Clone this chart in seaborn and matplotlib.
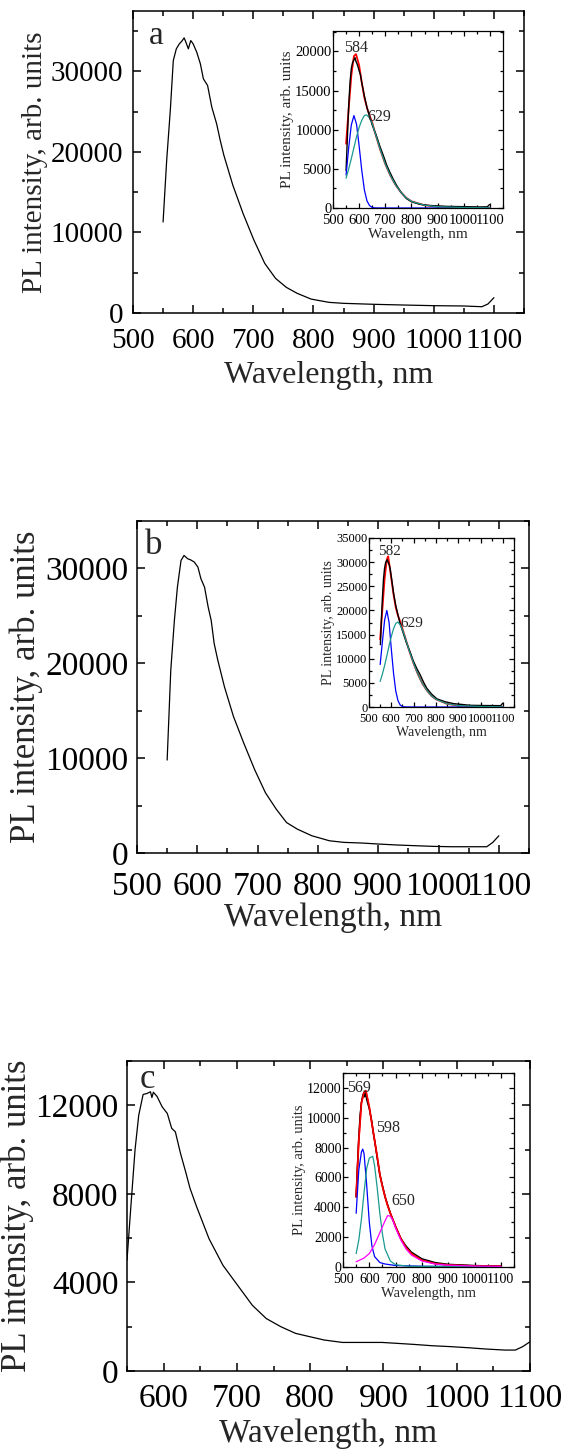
import numpy as np
import pandas as pd
import matplotlib
matplotlib.use("Agg")
import matplotlib.pyplot as plt
import seaborn as sns
from matplotlib.ticker import MultipleLocator

# ---------------- data ----------------
# Panel a main spectrum
a_wl = [550, 556, 562, 567, 572, 577, 581, 585, 588, 592, 596, 600, 606, 612, 617, 624, 631,
        639, 645, 651, 666, 683, 701, 719, 737, 755, 773, 796, 826, 850, 900, 950, 1000,
        1050, 1080, 1090, 1100]
a_pl = [11300, 18960, 25150, 31350, 32800, 33420, 33740, 34160, 33620, 32800, 33830, 33420,
        32380, 30940, 29080, 28250, 25560, 23500, 21440, 19600, 15860, 12350, 9050, 6160,
        4300, 3180, 2440, 1730, 1320, 1200, 1080, 990, 910, 870, 780, 1115, 1900]
# Panel a inset: data, fit and components
ai_wl = [550, 555, 560, 565, 570, 575, 580, 584, 588, 592, 596, 600, 605, 610, 620, 630, 640,
         650, 665, 680, 692, 705, 717, 730, 743, 760, 781, 800, 832, 870, 934, 1000, 1062,
         1090, 1098]
ai_data = [4800, 9000, 13000, 16000, 17800, 18600, 18900, 19200, 18700, 18400, 18000, 17500,
           17000, 16000, 14300, 12800, 11700, 10600, 9300, 7800, 6750, 5500, 4600, 3700, 2900,
           2000, 1200, 800, 470, 320, 210, 170, 130, 150, 430]
ai_fit_wl = [550, 560, 570, 580, 588, 600, 610, 620, 630, 640, 650, 660, 680, 700, 720, 740,
             760, 780, 800, 850, 900, 1000, 1100]
ai_fit = [8200, 12700, 16900, 19400, 19650, 18200, 16000, 14100, 12800, 11800, 10900, 9700,
          7500, 5600, 4100, 2900, 2000, 1300, 850, 350, 170, 60, 30]
ai_p1_wl = [550, 560, 570, 580, 590, 600, 610, 620, 630, 640, 650, 660, 700, 1100]
ai_p1 = [4200, 7700, 10600, 11800, 10700, 7900, 4800, 2300, 900, 300, 70, 10, 0, 0]
ai_p2_wl = [550, 560, 570, 580, 590, 600, 610, 620, 628, 640, 650, 660, 680, 700, 720, 740,
            760, 780, 800, 850, 900, 1000, 1100]
ai_p2 = [3800, 5000, 6300, 7700, 9100, 10300, 11200, 11800, 11900, 11500, 10800, 9700, 7500,
         5600, 4100, 2900, 2000, 1300, 850, 350, 170, 60, 30]
ai_peaks = ["584", "629"]

# Panel b main spectrum
b_wl = [550, 556, 562, 567, 573, 578, 584, 589, 595, 601, 606, 612, 618, 623, 628, 634, 645,
        660, 677, 695, 713, 731, 748, 766, 790, 819, 843, 873, 902, 932, 961, 991, 1021,
        1050, 1080, 1090, 1100]
b_pl = [9800, 19260, 24530, 28030, 30840, 31370, 31020, 30900, 30670, 30140, 28910, 28030,
        25930, 24530, 22070, 20320, 17520, 14380, 11590, 8800, 6350, 4610, 3210, 2510, 1815,
        1290, 1120, 1050, 940, 840, 770, 700, 660, 660, 660, 1120, 1815]
# Panel b inset
bi_wl = [551, 556, 560, 565, 570, 575, 578, 582, 586, 590, 595, 600, 610, 620, 638, 650, 668,
         685, 698, 715, 729, 745, 759, 780, 804, 840, 879, 954, 1020, 1090, 1100]
bi_data = [12900, 18500, 22500, 26500, 28800, 30000, 30200, 30500, 29900, 29600, 28600, 27000,
           23600, 21000, 17500, 15800, 13300, 11300, 9600, 7900, 6700, 5100, 3900, 2700, 1700,
           1100, 700, 350, 300, 280, 800]
bi_fit_wl = [550, 560, 570, 580, 586, 600, 610, 620, 630, 640, 650, 660, 680, 700, 720, 740,
             760, 780, 800, 850, 900, 1000, 1100]
bi_fit = [14000, 20300, 26600, 30600, 31200, 26600, 23300, 20600, 18900, 17700, 16200, 14700,
          11700, 9000, 6700, 4800, 3400, 2300, 1600, 650, 300, 100, 50]
bi_p1_wl = [550, 560, 570, 580, 590, 600, 610, 620, 630, 640, 650, 660, 700, 1100]
bi_p1 = [8800, 13500, 18000, 20000, 17500, 12000, 7000, 3300, 1300, 400, 100, 20, 0, 0]
bi_p2_wl = [550, 560, 570, 580, 590, 600, 610, 620, 629, 640, 650, 660, 680, 700, 720, 740,
            760, 780, 800, 850, 900, 1000, 1100]
bi_p2 = [5300, 6800, 8600, 10600, 12700, 14600, 16200, 17300, 17600, 17000, 16000, 14700,
         11700, 9000, 6700, 4800, 3400, 2300, 1600, 650, 300, 100, 50]
bi_peaks = ["582", "629"]

# Panel c main spectrum
c_wl = [550, 555, 561, 566, 572, 577, 582, 584, 586, 591, 598, 605, 611, 616, 623, 630, 636,
        645, 662, 681, 701, 721, 740, 760, 780, 800, 819, 844, 868, 898, 918, 942, 967, 992,
        1016, 1041, 1066, 1080, 1090, 1100]
c_pl = [5000, 7300, 10000, 11550, 12490, 12530, 12610, 12350, 12590, 12400, 11930, 11630,
        10960, 10800, 9830, 9000, 8250, 7420, 5970, 4770, 3870, 2970, 2370, 2000, 1700, 1545,
        1400, 1290, 1290, 1290, 1250, 1200, 1140, 1100, 1050, 990, 945, 945, 1100, 1320]
# Panel c inset
ci_wl = [550, 555, 560, 565, 570, 575, 580, 582, 585, 590, 600, 610, 615, 620, 630, 640, 660,
         680, 700, 720, 740, 760, 800, 850, 900, 1000, 1100]
ci_data = [4700, 6800, 8700, 10200, 11000, 11500, 11700, 11400, 11800, 11200, 10600, 9700,
           9000, 8500, 7300, 6200, 4700, 3600, 2700, 1900, 1400, 1000, 550, 300, 180, 100, 60]
ci_fit_wl = [550, 560, 570, 580, 587, 600, 610, 620, 630, 640, 650, 660, 670, 680, 700, 720,
             740, 760, 800, 850, 900, 1000, 1100]
ci_fit = [4700, 8500, 11000, 11700, 11800, 10700, 9600, 8500, 7400, 6200, 5400, 4700, 4100,
          3600, 2700, 1900, 1300, 900, 450, 230, 140, 70, 50]
ci_p1_wl = [550, 560, 570, 575, 580, 590, 600, 610, 620, 640, 660, 700, 800, 1100]
ci_p1 = [3600, 6500, 7700, 7900, 7600, 5500, 3000, 1400, 700, 300, 200, 100, 50, 20]
ci_p2_wl = [550, 560, 570, 580, 590, 600, 613, 620, 630, 640, 650, 660, 680, 700, 750, 1100]
ci_p2 = [900, 1800, 3200, 5000, 6600, 7300, 7420, 6800, 5300, 3600, 2200, 1200, 400, 150, 50, 0]
ci_p3_wl = [550, 580, 600, 620, 640, 660, 670, 680, 690, 700, 720, 740, 760, 800, 850, 900,
            1000, 1100]
ci_p3 = [350, 600, 900, 1500, 2300, 3100, 3450, 3400, 3100, 2600, 1800, 1200, 800, 400, 200,
         120, 60, 40]
ci_peaks = ["569", "598", "650"]

panel_letters = ["a", "b", "c"]
xlabel = "Wavelength, nm"
ylabel = "PL intensity, arb. units"

# ---------------- style ----------------
sns.set_theme(style="ticks")
plt.rcParams["font.family"] = ["Liberation Serif", "DejaVu Serif"]
plt.rcParams["mathtext.fontset"] = "stix"

W, H = 562, 1450
fig = plt.figure(figsize=(W / 100, H / 100), dpi=100)
fig.patch.set_facecolor("white")


def box(l, t, r, b):
    return [l / W, 1 - b / H, (r - l) / W, (b - t) / H]


BLUE = "#0000ff"
TEAL = "#1a9a90"
RED = "#ff0000"
MAG = "#ff00ff"


def style_axes(ax, xmaj, xmin, ymaj, ymin, size, major_len, minor_len, lw, xpad=3, ypad=3):
    ax.xaxis.set_major_locator(MultipleLocator(xmaj))
    ax.xaxis.set_minor_locator(MultipleLocator(xmin))
    ax.yaxis.set_major_locator(MultipleLocator(ymaj))
    ax.yaxis.set_minor_locator(MultipleLocator(ymin))
    ax.tick_params(which="both", direction="in", top=True, right=True, colors="black",
                   labelsize=size, width=lw)
    ax.tick_params(axis="x", pad=xpad)
    ax.tick_params(axis="y", pad=ypad)
    ax.tick_params(which="major", length=major_len)
    ax.tick_params(which="minor", length=minor_len)
    for s in ax.spines.values():
        s.set_color("black")
        s.set_linewidth(lw)
    ax.set_facecolor("white")


def line(ax, x, y, color, lw):
    df = pd.DataFrame({"x": x, "y": y})
    sns.lineplot(data=df, x="x", y="y", ax=ax, color=color, linewidth=lw, sort=False,
                 estimator=None)


def main_panel(pos, wl, pl, xlim, ylim, ymaj, ymin, letter, letter_xy, tsize, lsize, ylsize,
               letsize, xpad, xlpad, ypad, ylpad, xticks=None):
    ax = fig.add_axes(box(*pos))
    line(ax, wl, pl, "black", 0.9)
    ax.set_xlim(*xlim)
    ax.set_ylim(*ylim)
    style_axes(ax, 100, 50, ymaj, ymin, tsize, 6, 3.5, 1.1, xpad=xpad, ypad=ypad)
    if xticks is not None:
        ax.set_xticks(xticks)
    ax.set_xlabel(xlabel, fontsize=lsize, labelpad=xlpad)
    ax.set_ylabel(ylabel, fontsize=ylsize, labelpad=ylpad)
    ax.text(letter_xy[0], letter_xy[1], letter, fontsize=letsize, ha="center", va="center")
    return ax


def inset(pos, ylim, ymaj, ymin, tsize, lsize):
    ax = fig.add_axes(box(*pos))
    ax.set_xlim(500, 1150)
    ax.set_ylim(*ylim)
    style_axes(ax, 100, 50, ymaj, ymin, tsize, 3.5, 2, 0.9, xpad=4, ypad=1)
    ax.set_xlabel(xlabel, fontsize=lsize, labelpad=1)
    ax.set_ylabel(ylabel, fontsize=lsize, labelpad=1)
    return ax


# ---------------- panel a ----------------
main_panel((133, 11, 524, 313), a_wl, a_pl, (500, 1150), (0, 37500), 10000, 5000,
           panel_letters[0], (538, 34400), 21, 23, 21, 24, 11, 5, 7, 2)
ia = inset((333, 31, 503, 208), (0, 22600), 5000, 2500, 10.5, 11)
line(ia, ai_fit_wl, ai_fit, RED, 1.3)
line(ia, ai_wl, ai_data, "black", 1.0)
line(ia, ai_p1_wl, ai_p1, BLUE, 0.9)
line(ia, ai_p2_wl, ai_p2, TEAL, 0.9)
ia.text(590, 20400, ai_peaks[0], fontsize=11.5, ha="center", va="center")
ia.text(676, 11650, ai_peaks[1], fontsize=11.5, ha="center", va="center")

# ---------------- panel b ----------------
main_panel((137, 521, 529, 853), b_wl, b_pl, (500, 1150), (0, 35000), 10000, 5000,
           panel_letters[1], (528, 32400), 24, 24, 25, 25, 13, 1, 6, 2)
ib = inset((369, 538, 514, 707), (0, 35000), 5000, 2500, 9, 10)
line(ib, bi_fit_wl, bi_fit, RED, 1.3)
line(ib, bi_wl, bi_data, "black", 1.0)
line(ib, bi_p1_wl, bi_p1, BLUE, 0.9)
line(ib, bi_p2_wl, bi_p2, TEAL, 0.9)
ib.text(593, 32300, bi_peaks[0], fontsize=11, ha="center", va="center")
ib.text(692, 17200, bi_peaks[1], fontsize=11, ha="center", va="center")

# ---------------- panel c ----------------
main_panel((127, 1061, 530, 1371), c_wl, c_pl, (550, 1100), (0, 14000), 4000, 2000,
           panel_letters[2], (578, 13150), 24, 24, 25, 25, 9, 3, 6, 1,
           xticks=[600, 700, 800, 900, 1000, 1100])
ic = inset((343, 1073, 514, 1267), (0, 13000), 2000, 1000, 10, 10.5)
line(ic, ci_fit_wl, ci_fit, RED, 1.3)
line(ic, ci_wl, ci_data, "black", 1.0)
line(ic, ci_fit_wl, ci_fit, RED, 1.1)
line(ic, ci_p1_wl, ci_p1, BLUE, 0.9)
line(ic, ci_p2_wl, ci_p2, TEAL, 0.9)
line(ic, ci_p3_wl, ci_p3, MAG, 0.9)
ic.text(560, 12000, ci_peaks[0], fontsize=11.5, ha="center", va="center")
ic.text(671, 9300, ci_peaks[1], fontsize=11.5, ha="center", va="center")
ic.text(728, 4400, ci_peaks[2], fontsize=11.5, ha="center", va="center")

fig.savefig("out.png", dpi=100, facecolor="white")
